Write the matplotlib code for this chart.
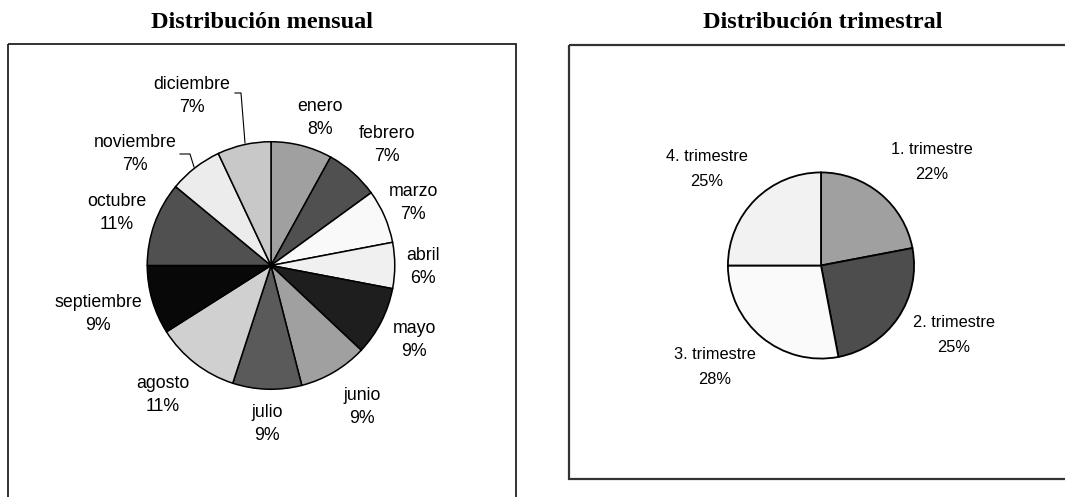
import matplotlib
matplotlib.use("Agg")
import matplotlib.pyplot as plt
from matplotlib.patches import Rectangle

# Monthly and quarterly shares (percent)
months = ["enero", "febrero", "marzo", "abril", "mayo", "junio", "julio",
          "agosto", "septiembre", "octubre", "noviembre", "diciembre"]
month_share = [8, 7, 7, 6, 9, 9, 9, 11, 9, 11, 7, 7]
month_colors = ["#a0a0a0", "#505050", "#f9f9f9", "#f0f0f0", "#1e1e1e", "#a0a0a0",
                "#5a5a5a", "#d0d0d0", "#080808", "#505050", "#ececec", "#c8c8c8"]

quarters = ["1. trimestre", "2. trimestre", "3. trimestre", "4. trimestre"]
quarter_share = [22, 25, 28, 25]
quarter_colors = ["#a0a0a0", "#4d4d4d", "#fafafa", "#f2f2f2"]

W, H = 1065, 497
fig = plt.figure(figsize=(W / 100, H / 100), dpi=100)
fig.patch.set_facecolor("white")

# Overlay in pixel coordinates for frames, titles and labels
ov = fig.add_axes([0, 0, 1, 1], zorder=0)
ov.set_xlim(0, W)
ov.set_ylim(H, 0)
ov.axis("off")

ov.add_patch(Rectangle((8, 44), 508, 480, fill=False, edgecolor="#222222", lw=1.3))
ov.add_patch(Rectangle((569, 45), 520, 434, fill=False, edgecolor="#333333", lw=1.6))

title_font = dict(family="Liberation Serif", weight="bold", size=17.5)
ov.text(262, 28, "Distribución mensual", ha="center", va="baseline", **title_font)
ov.text(823, 28, "Distribución trimestral", ha="center", va="baseline", **title_font)


def pie_axes(cx, cy, r):
    return fig.add_axes([(cx - r) / W, (H - cy - r) / H, 2 * r / W, 2 * r / H], zorder=1)


# Monthly pie
ax1 = pie_axes(271, 265.5, 125)
ax1.pie(month_share, colors=month_colors, startangle=90, counterclock=False,
        radius=1, wedgeprops=dict(edgecolor="black", linewidth=1.1))
ax1.set_xlim(-1.01, 1.01)
ax1.set_ylim(-1.01, 1.01)
ax1.axis("off")

# Quarterly pie
ax2 = pie_axes(821, 265.5, 94)
ax2.pie(quarter_share, colors=quarter_colors, startangle=90, counterclock=False,
        radius=1, wedgeprops=dict(edgecolor="black", linewidth=1.3))
ax2.set_xlim(-1.01, 1.01)
ax2.set_ylim(-1.01, 1.01)
ax2.axis("off")

# Label placement (pixel centres)
month_label_pos = [(320, 118), (387, 145), (413, 203), (423, 267), (414, 340),
                   (362, 407), (267, 424), (163, 395), (98, 314), (117, 213),
                   (135, 154), (192, 96)]
quarter_label_pos = [(932, 162), (954, 335), (715, 367), (707, 169)]

for name, val, (x, y) in zip(months, month_share, month_label_pos):
    ov.text(x, y, f"{name}\n{val}%", ha="center", va="center",
            family="Liberation Sans", size=12.8, linespacing=1.5)

for name, val, (x, y) in zip(quarters, quarter_share, quarter_label_pos):
    ov.text(x, y, f"{name}\n{val}%", ha="center", va="center",
            family="Liberation Sans", size=11.8, linespacing=1.85)

# Leader lines for the small labels
ov.plot([235, 241, 245], [93, 93, 143], color="black", lw=0.8)
ov.plot([180, 190, 194], [154, 154, 167], color="black", lw=0.8)

fig.savefig("out.png", dpi=100, facecolor="white")
